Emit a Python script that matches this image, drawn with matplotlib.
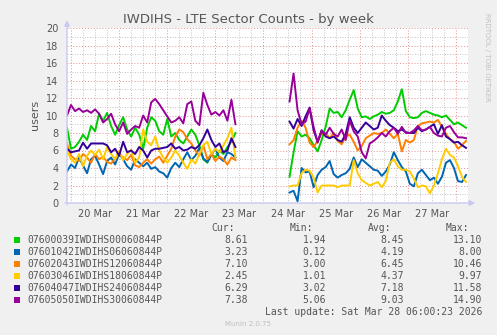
import numpy as np
import matplotlib
matplotlib.use('Agg')
import matplotlib.pyplot as plt
from matplotlib.patches import Rectangle

# hours relative to 20 Mar 00:00, 2h samples
seg1_hours = np.arange(-2, 83, 2)
seg2_hours = np.arange(109, 198, 2)

names = ['07600039IWDIHS00060844P', '07601042IWDIHS06060844P', '07602043IWDIHS12060844P',
         '07603046IWDIHS18060844P', '07604047IWDIHS24060844P', '07605050IWDIHS30060844P']
colors = ['#00CC00', '#0066B3', '#FF8000', '#FFCC00', '#330099', '#990099']

green1 = [8.6, 6.2, 6.4, 7.0, 7.8, 7.2, 8.8, 8.2, 10.2, 9.4, 10.3, 8.8, 7.8, 8.9, 9.8, 8.4, 7.6, 8.6, 7.8,
          6.2, 8.6, 9.8, 9.4, 8.2, 7.8, 9.6, 7.6, 8.0, 7.2, 6.8, 7.6, 8.4, 7.8, 6.6, 5.0, 4.6, 5.6, 5.2,
          6.0, 5.6, 6.4, 7.0, 8.0]
blue1 = [3.6, 4.4, 4.0, 5.2, 4.3, 3.4, 5.0, 5.4, 4.4, 3.3, 4.8, 5.2, 4.4, 5.6, 5.0, 4.2, 3.8, 5.0, 4.6,
         4.2, 4.6, 3.9, 4.1, 3.6, 3.4, 2.9, 4.0, 4.6, 4.1, 5.0, 5.8, 4.9, 5.4, 6.3, 5.1, 4.7, 5.5, 6.2,
         5.2, 4.8, 5.8, 5.6, 5.2]
orange1 = [6.8, 5.4, 5.0, 4.8, 5.6, 5.2, 4.6, 5.6, 5.0, 5.3, 4.7, 4.5, 5.1, 5.6, 5.2, 4.9, 5.5, 4.3, 4.1,
           4.6, 5.0, 4.5, 5.0, 5.3, 4.6, 5.4, 6.2, 7.6, 8.4, 8.1, 7.3, 6.8, 6.0, 5.4, 6.6, 5.0, 5.6, 4.8,
           5.3, 5.0, 4.4, 5.2, 4.9]
yellow1 = [6.0, 5.0, 4.6, 5.6, 4.2, 5.4, 6.0, 5.5, 6.1, 5.0, 6.4, 5.6, 5.0, 6.0, 4.9, 5.6, 6.1, 4.6, 5.2,
           8.4, 7.0, 6.6, 7.6, 6.0, 5.2, 4.6, 5.2, 6.0, 5.4, 4.6, 3.9, 5.0, 4.5, 5.6, 6.6, 7.0, 5.6, 6.2,
           5.8, 6.6, 7.4, 8.6, 5.2]
indigo1 = [6.2, 5.8, 5.9, 6.0, 6.9, 6.2, 6.8, 6.8, 6.8, 6.8, 6.6, 5.8, 6.2, 5.4, 7.0, 5.8, 6.0, 5.6, 6.4,
           6.0, 5.2, 6.0, 6.2, 6.2, 6.3, 6.4, 6.8, 6.2, 6.4, 6.0, 6.1, 6.4, 6.2, 6.6, 7.4, 8.4, 7.2, 6.4,
           6.8, 5.8, 6.0, 7.4, 6.4]
purple1 = [10.0, 11.2, 10.5, 10.8, 10.4, 10.6, 10.3, 10.7, 10.2, 9.2, 9.6, 10.2, 9.0, 8.2, 9.2, 7.9, 8.4,
           8.8, 8.6, 10.0, 9.2, 11.5, 11.9, 11.3, 10.6, 9.9, 9.2, 9.4, 9.8, 9.1, 11.3, 11.6, 9.4, 8.9, 12.6,
           11.2, 10.1, 10.4, 10.0, 10.6, 9.4, 11.8, 9.0]

green2 = [3.0, 5.8, 8.2, 7.6, 7.8, 7.4, 6.6, 5.9, 7.2, 8.7, 10.8, 10.3, 10.4, 9.8, 10.6, 11.8, 12.9, 10.8,
          9.8, 9.9, 9.6, 9.9, 10.1, 10.4, 10.2, 10.3, 10.6, 11.6, 13.0, 10.5, 9.8, 9.7, 9.8, 10.3, 10.5,
          10.3, 10.1, 10.0, 9.8, 10.0, 9.5, 9.0, 9.2, 8.9, 8.6]
blue2 = [1.2, 1.4, 0.2, 4.0, 3.5, 3.6, 1.8, 3.2, 3.8, 4.1, 4.8, 3.3, 2.9, 3.2, 3.4, 3.9, 5.2, 4.1, 5.0,
         4.6, 4.2, 3.8, 3.7, 3.1, 3.6, 4.4, 5.8, 4.9, 4.1, 3.6, 2.2, 1.9, 3.4, 3.8, 3.2, 2.6, 2.9, 2.2,
         3.0, 4.6, 4.9, 4.0, 2.5, 2.4, 3.2]
orange2 = [6.7, 7.2, 8.6, 9.4, 8.6, 6.9, 6.4, 7.1, 7.9, 8.0, 7.4, 8.0, 7.1, 6.7, 7.6, 7.8, 7.0, 6.0, 6.5,
           7.4, 7.7, 8.0, 7.9, 8.0, 8.4, 7.9, 7.4, 7.9, 5.9, 7.2, 6.9, 7.2, 8.8, 9.1, 9.2, 9.3, 9.2, 9.5,
           8.7, 7.9, 7.3, 7.0, 6.2, 6.6, 7.1]
yellow2 = [1.9, 2.0, 2.0, 3.4, 3.8, 3.7, 2.9, 1.2, 2.0, 2.0, 2.0, 2.0, 1.8, 2.0, 2.0, 2.0, 4.9, 3.4, 2.6,
           2.3, 2.0, 2.2, 2.4, 1.8, 2.5, 4.6, 5.0, 4.2, 3.8, 3.8, 3.6, 2.8, 1.8, 2.0, 1.9, 1.1, 2.0, 3.4,
           5.0, 6.2, 5.5, 5.2, 4.2, 3.0, 2.4]
indigo2 = [9.3, 8.5, 9.6, 8.8, 9.9, 10.9, 8.3, 7.0, 8.3, 7.6, 7.4, 7.6, 7.2, 7.0, 7.9, 9.8, 8.6, 8.0, 8.6,
           9.2, 8.8, 8.4, 8.6, 10.0, 9.4, 8.9, 8.6, 8.2, 8.4, 8.1, 8.0, 8.0, 8.6, 8.2, 8.4, 8.7, 9.0, 7.9,
           8.9, 7.6, 7.3, 6.9, 7.0, 6.6, 6.3]
purple2 = [11.6, 14.8, 10.6, 9.0, 9.3, 10.8, 8.7, 6.9, 8.3, 7.8, 8.6, 7.9, 7.6, 8.4, 7.2, 9.4, 8.2, 7.6,
           5.8, 5.1, 6.8, 7.1, 7.5, 8.0, 7.6, 8.2, 8.6, 7.9, 8.7, 8.0, 8.0, 8.3, 8.8, 8.3, 8.4, 8.7, 8.0,
           7.7, 7.6, 8.6, 8.8, 8.1, 7.5, 7.5, 7.4]

seg1 = [green1, blue1, orange1, yellow1, indigo1, purple1]
seg2 = [green2, blue2, orange2, yellow2, indigo2, purple2]

cur = ['8.61', '3.23', '7.10', '2.45', '6.29', '7.38']
mins = ['1.94', '0.12', '3.00', '1.01', '3.02', '5.06']
avgs = ['8.45', '4.19', '6.45', '4.37', '7.18', '9.03']
maxs = ['13.10', '8.00', '10.46', '9.97', '11.58', '14.90']

day_labels = ['20 Mar', '21 Mar', '22 Mar', '23 Mar', '24 Mar', '25 Mar', '26 Mar', '27 Mar']

W, H = 497, 335
bg = '#F0F0F0'
txt = '#555555'
axcol = '#C8C8F4'

fig = plt.figure(figsize=(W / 100, H / 100), dpi=100, facecolor=bg)
ax = fig.add_axes([67 / W, 1 - 203 / H, 401 / W, 175 / H])
ax.set_facecolor('white')
ax.set_xlim(-2, 198)
ax.set_ylim(0, 20)

# grid: minor every 6h / 1 user, major every day / 2 users
for h in range(0, 198, 6):
    if h % 24 != 0:
        ax.axvline(h, color='#B0B0B0', lw=0.6, ls=(0, (1, 2)), zorder=1)
for v in range(1, 20, 2):
    ax.axhline(v, color='#B0B0B0', lw=0.6, ls=(0, (1, 2)), zorder=1)
for h in range(0, 198, 24):
    ax.axvline(h, color='#E89090', lw=0.7, ls=(0, (1, 2)), zorder=1)
for v in range(2, 21, 2):
    ax.axhline(v, color='#E89090', lw=0.7, ls=(0, (1, 2)), zorder=1)

for i in range(6):
    ax.plot(seg1_hours, seg1[i], color=colors[i], lw=1.4, zorder=3)
    ax.plot(seg2_hours, seg2[i], color=colors[i], lw=1.4, zorder=3)

for s in ax.spines.values():
    s.set_visible(False)
ax.set_yticks(range(0, 21, 2))
ax.set_xticks([12 + 24 * k for k in range(len(day_labels))])
ax.set_xticklabels(day_labels)
ax.tick_params(axis='both', length=0, colors=txt, labelsize=7)
ax.tick_params(axis='y', pad=6)
ax.tick_params(axis='x', pad=4)

# axes with arrows
ax.annotate('', xy=(1.018, 0), xytext=(-0.005, 0), xycoords='axes fraction',
            arrowprops=dict(arrowstyle='-|>', color=axcol, lw=1, mutation_scale=8, shrinkA=0, shrinkB=0))
ax.annotate('', xy=(0, 1.045), xytext=(0, -0.01), xycoords='axes fraction',
            arrowprops=dict(arrowstyle='-|>', color=axcol, lw=1, mutation_scale=8, shrinkA=0, shrinkB=0))

fig.text(248 / W, 1 - 19 / H, 'IWDIHS - LTE Sector Counts - by week', ha='center', va='center',
         color=txt, fontsize=9.5)
fig.text(35 / W, 1 - 115 / H, 'users', rotation=90, ha='center', va='center', color=txt, fontsize=8)
fig.text(487 / W, 1 - 57 / H, 'RRDTOOL / TOBI OETIKER', rotation=270, ha='center', va='center',
         color='#C0C0C0', fontsize=5)

mono = 'DejaVu Sans Mono'
hy = 228
for xr, lab in zip([235, 313, 391, 469], ['Cur:', 'Min:', 'Avg:', 'Max:']):
    fig.text(xr / W, 1 - hy / H, lab, ha='right', va='center', color=txt, fontsize=7, family=mono)
for i in range(6):
    y = 240 + 12 * i
    fig.patches.append(Rectangle((14 / W, 1 - (y + 3) / H), 6 / W, 6 / H, transform=fig.transFigure,
                                 facecolor=colors[i], edgecolor='none'))
    fig.text(27 / W, 1 - y / H, names[i], ha='left', va='center', color=txt, fontsize=7, family=mono)
    for xr, val in zip([248, 326, 404, 482], [cur[i], mins[i], avgs[i], maxs[i]]):
        fig.text(xr / W, 1 - y / H, val, ha='right', va='center', color=txt, fontsize=7, family=mono)

fig.text(482 / W, 1 - 312 / H, 'Last update: Sat Mar 28 06:00:23 2026', ha='right', va='center',
         color=txt, fontsize=7, family=mono)
fig.text(248 / W, 1 - 324 / H, 'Munin 2.0.75', ha='center', va='center', color='#C0C0C0', fontsize=5)

fig.savefig('out.png', dpi=100, facecolor=bg)
